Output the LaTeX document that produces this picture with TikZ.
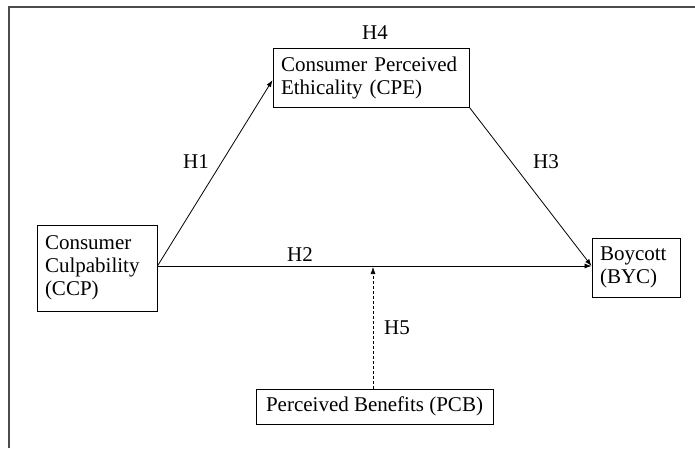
\documentclass[tikz,border=0pt]{standalone}
\usepackage{fontspec}
\setmainfont{Liberation Serif}
\usetikzlibrary{arrows.meta}
\begin{document}
\begin{tikzpicture}[x=1pt,y=-1pt,
  box/.style={draw, line width=0.9pt, rectangle, inner xsep=8pt, inner ysep=0pt, align=left,
    font=\fontsize{21}{23}\selectfont, anchor=center},
  lbl/.style={font=\fontsize{21}{23}\selectfont, inner sep=0pt},
  conn/.style={line width=0.8pt, -{Latex[length=7pt,width=5pt]}}]
\useasboundingbox (0,0) rectangle (695,448);
\draw[line width=1.4pt, black!70] (9,448) -- (9,7) -- (695,7);
\node[box, text width=104pt, minimum height=86pt] (ccp) at (97,268) {Consumer\\Culpability\\(CCP)};
\node[box, text width=180pt, minimum height=59pt] (cpe) at (371,77.5) {Consumer Perceived\\Ethicality (CPE)};
\node[box, text width=72pt, minimum height=59pt] (byc) at (636,267.5) {Boycott\\(BYC)};
\node[box, align=center, inner xsep=0pt, minimum width=237pt, minimum height=35pt] (pcb) at (374.5,406.5) {Perceived Benefits (PCB)};
\coordinate (ccpout) at (157,266);
\coordinate (mod) at (373,267);
\node[lbl] (h1) at (196,162) {H1};
\node[lbl] (h2) at (300,255) {H2};
\node[lbl] (h3) at (546,162) {H3};
\node[lbl] (h4) at (375,33) {H4};
\node[lbl] (h5) at (397,328) {H5};
\draw[conn] (ccpout) -- (ccp.east |- ccpout) -- (cpe.west |- 0,80);
\draw[conn] (ccpout) -- (byc.west |- ccpout);
\draw[conn] (cpe.south east) -- (byc.west |- ccpout);
\draw[conn, dashed, dash pattern=on 3pt off 2pt, line width=0.6pt] (pcb.north -| mod) -- (mod);
\end{tikzpicture}
\end{document}
